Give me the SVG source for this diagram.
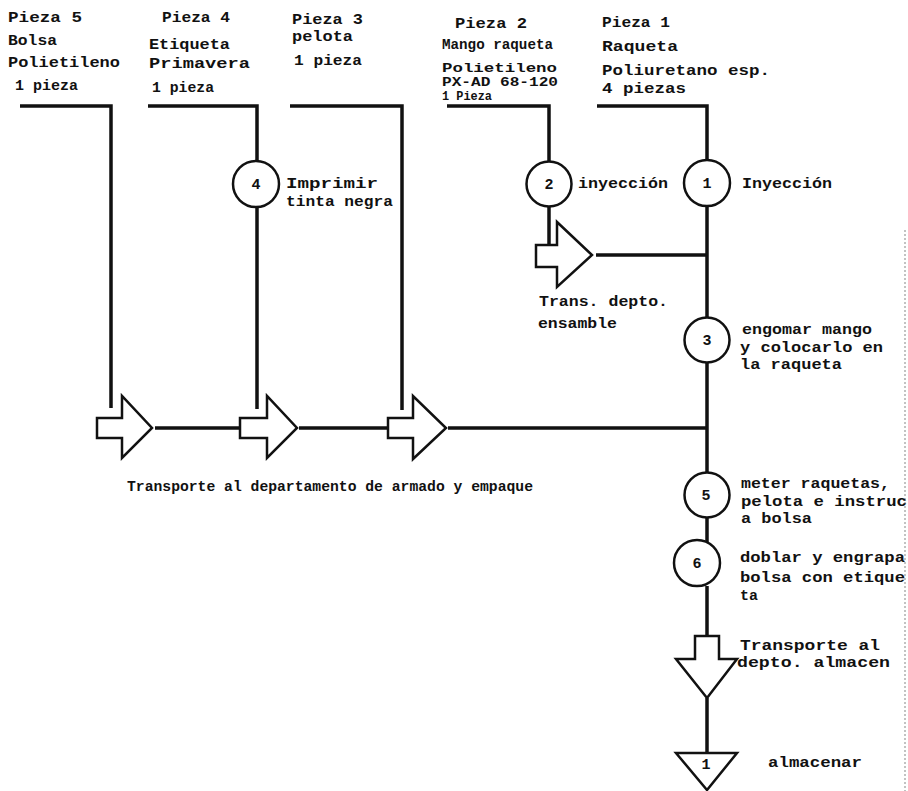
<svg xmlns="http://www.w3.org/2000/svg" width="908" height="791" viewBox="0 0 908 791">
  <style>
    .t { font-family: "Liberation Mono", "DejaVu Sans Mono", monospace; font-weight: bold; font-size: 15px; fill: #111; }
    .s { font-family: "Liberation Mono", "DejaVu Sans Mono", monospace; font-weight: bold; font-size: 12px; fill: #111; }
    .n { font-family: "Liberation Mono", "DejaVu Sans Mono", monospace; font-weight: bold; font-size: 15px; fill: #111; text-anchor: middle; }
    .ln { stroke: #111; stroke-width: 3.5; fill: none; stroke-linecap: butt; }
    .op { stroke: #111; stroke-width: 2.5; fill: #fff; }
    .tr { stroke: #111; stroke-width: 2.5; fill: #fff; stroke-linejoin: miter; }
  </style>
  <rect width="908" height="791" fill="#fff"/>

  <!-- page edge -->
  <line x1="905" y1="230" x2="905" y2="791" stroke="#9a9a9a" stroke-width="1.2" stroke-dasharray="2,2"/>

  <!-- material headings -->
  <g id="pieza5">
    <text class="t" x="8" y="22" textLength="74" lengthAdjust="spacingAndGlyphs">Pieza 5</text>
    <text class="t" x="8" y="45" textLength="49" lengthAdjust="spacingAndGlyphs">Bolsa</text>
    <text class="t" x="8" y="67" textLength="112" lengthAdjust="spacingAndGlyphs">Polietileno</text>
    <text class="t" x="15" y="90" textLength="63" lengthAdjust="spacingAndGlyphs">1 pieza</text>
  </g>
  <g id="pieza4">
    <text class="t" x="162" y="22" textLength="68" lengthAdjust="spacingAndGlyphs">Pieza 4</text>
    <text class="t" x="149" y="49" textLength="81" lengthAdjust="spacingAndGlyphs">Etiqueta</text>
    <text class="t" x="149" y="68" textLength="101" lengthAdjust="spacingAndGlyphs">Primavera</text>
    <text class="t" x="152" y="92" textLength="62" lengthAdjust="spacingAndGlyphs">1 pieza</text>
  </g>
  <g id="pieza3">
    <text class="t" x="292" y="24" textLength="71" lengthAdjust="spacingAndGlyphs">Pieza 3</text>
    <text class="t" x="292" y="41" textLength="61" lengthAdjust="spacingAndGlyphs">pelota</text>
    <text class="t" x="294" y="65" textLength="68" lengthAdjust="spacingAndGlyphs">1 pieza</text>
  </g>
  <g id="pieza2">
    <text class="t" x="455" y="28" textLength="72" lengthAdjust="spacingAndGlyphs">Pieza 2</text>
    <text class="t" x="442" y="49" textLength="111" lengthAdjust="spacingAndGlyphs">Mango raqueta</text>
    <text class="s" x="442" y="72" textLength="115" lengthAdjust="spacingAndGlyphs">Polietileno</text>
    <text class="s" x="442" y="86" textLength="116" lengthAdjust="spacingAndGlyphs">PX-AD 68-120</text>
    <text class="s" x="442" y="100" textLength="50" lengthAdjust="spacingAndGlyphs">1 Pieza</text>
  </g>
  <g id="pieza1">
    <text class="t" x="602" y="27" textLength="68" lengthAdjust="spacingAndGlyphs">Pieza 1</text>
    <text class="t" x="602" y="51" textLength="76" lengthAdjust="spacingAndGlyphs">Raqueta</text>
    <text class="t" x="602" y="75" textLength="168" lengthAdjust="spacingAndGlyphs">Poliuretano esp.</text>
    <text class="t" x="602" y="93" textLength="84" lengthAdjust="spacingAndGlyphs">4 piezas</text>
  </g>

  <!-- flow lines -->
  <g id="connectors">
    <!-- Pieza 5 -->
    <polyline class="ln" points="20,106 111,106 111,408"/>
    <!-- Pieza 4 -->
    <polyline class="ln" points="148,106 257,106 257,161"/>
    <line class="ln" x1="257" y1="207" x2="257" y2="409"/>
    <!-- Pieza 3 -->
    <polyline class="ln" points="290,106 402,106 402,410"/>
    <!-- Pieza 2 -->
    <polyline class="ln" points="447,106 549,106 549,162"/>
    <line class="ln" x1="549" y1="206" x2="549" y2="245"/>
    <line class="ln" x1="596" y1="255" x2="707" y2="255"/>
    <!-- Pieza 1 / main line -->
    <polyline class="ln" points="597,106 707,106 707,160"/>
    <line class="ln" x1="707" y1="206" x2="707" y2="318"/>
    <line class="ln" x1="707" y1="363" x2="707" y2="472"/>
    <line class="ln" x1="707" y1="518" x2="707" y2="542"/>
    <line class="ln" x1="707" y1="586" x2="707" y2="636"/>
    <line class="ln" x1="707" y1="698" x2="707" y2="753"/>
    <!-- assembly transport line -->
    <line class="ln" x1="155" y1="428" x2="240" y2="428"/>
    <line class="ln" x1="299" y1="428" x2="388" y2="428"/>
    <line class="ln" x1="448" y1="428" x2="707" y2="428"/>
  </g>

  <!-- operations -->
  <g id="op4">
    <circle class="op" cx="256" cy="184" r="23"/>
    <text class="n" x="256" y="189">4</text>
    <text class="t" x="286" y="188" textLength="92" lengthAdjust="spacingAndGlyphs">Imprimir</text>
    <text class="t" x="286" y="206" textLength="107" lengthAdjust="spacingAndGlyphs">tinta negra</text>
  </g>
  <g id="op2">
    <circle class="op" cx="549" cy="184" r="22.5"/>
    <text class="n" x="549" y="189">2</text>
    <text class="t" x="578" y="188" textLength="90" lengthAdjust="spacingAndGlyphs">inyección</text>
  </g>
  <g id="op1">
    <circle class="op" cx="707" cy="183" r="23"/>
    <text class="n" x="707" y="188">1</text>
    <text class="t" x="742" y="188" textLength="90" lengthAdjust="spacingAndGlyphs">Inyección</text>
  </g>
  <g id="op3">
    <circle class="op" cx="707" cy="340" r="22.5"/>
    <text class="n" x="707" y="345">3</text>
    <text class="t" x="742" y="334" textLength="130" lengthAdjust="spacingAndGlyphs">engomar mango</text>
    <text class="t" x="740" y="352" textLength="143" lengthAdjust="spacingAndGlyphs">y colocarlo en</text>
    <text class="t" x="740" y="369" textLength="102" lengthAdjust="spacingAndGlyphs">la raqueta</text>
  </g>
  <g id="op5">
    <circle class="op" cx="707" cy="495" r="22.5"/>
    <text class="n" x="706" y="500">5</text>
    <text class="t" x="741" y="488" textLength="149" lengthAdjust="spacingAndGlyphs">meter raquetas,</text>
    <text class="t" x="741" y="506" textLength="166" lengthAdjust="spacingAndGlyphs">pelota e instruc</text>
    <text class="t" x="741" y="523" textLength="71" lengthAdjust="spacingAndGlyphs">a bolsa</text>
  </g>
  <g id="op6">
    <circle class="op" cx="697" cy="563" r="23"/>
    <text class="n" x="697" y="568">6</text>
    <text class="t" x="740" y="562" textLength="165" lengthAdjust="spacingAndGlyphs">doblar y engrapa</text>
    <text class="t" x="740" y="582" textLength="165" lengthAdjust="spacingAndGlyphs">bolsa con etique</text>
    <text class="t" x="740" y="600" textLength="18" lengthAdjust="spacingAndGlyphs">ta</text>
  </g>

  <!-- transports -->
  <g id="trans-ensamble">
    <polygon class="tr" points="536,245 557,245 557,222 592,255 557,287 557,267 536,267"/>
    <text class="t" x="539" y="306" textLength="129" lengthAdjust="spacingAndGlyphs">Trans. depto.</text>
    <text class="t" x="538" y="328" textLength="79" lengthAdjust="spacingAndGlyphs">ensamble</text>
  </g>
  <g id="trans-a">
    <polygon class="tr" points="97,418 122,418 122,396 152,428 122,458 122,438 97,438"/>
  </g>
  <g id="trans-b">
    <polygon class="tr" points="240,418 267,418 267,396 297,428 267,458 267,438 240,438"/>
  </g>
  <g id="trans-c">
    <polygon class="tr" points="388,418 413,418 413,396 446,428 413,459 413,438 388,438"/>
  </g>
  <g id="trans-armado">
    <text class="t" x="127" y="491" textLength="406" lengthAdjust="spacingAndGlyphs">Transporte al departamento de armado y empaque</text>
  </g>
  <g id="trans-almacen">
    <polygon class="tr" points="695,636 719,636 719,659 737,659 707,698 676,659 695,659"/>
    <text class="t" x="740" y="650" textLength="140" lengthAdjust="spacingAndGlyphs">Transporte al</text>
    <text class="t" x="737" y="667" textLength="153" lengthAdjust="spacingAndGlyphs">depto. almacen</text>
  </g>

  <!-- storage -->
  <g id="almacen1">
    <polygon class="tr" points="676,753 737,753 707,790"/>
    <text class="n" x="706" y="769">1</text>
    <text class="t" x="768" y="767" textLength="94" lengthAdjust="spacingAndGlyphs">almacenar</text>
  </g>
</svg>
